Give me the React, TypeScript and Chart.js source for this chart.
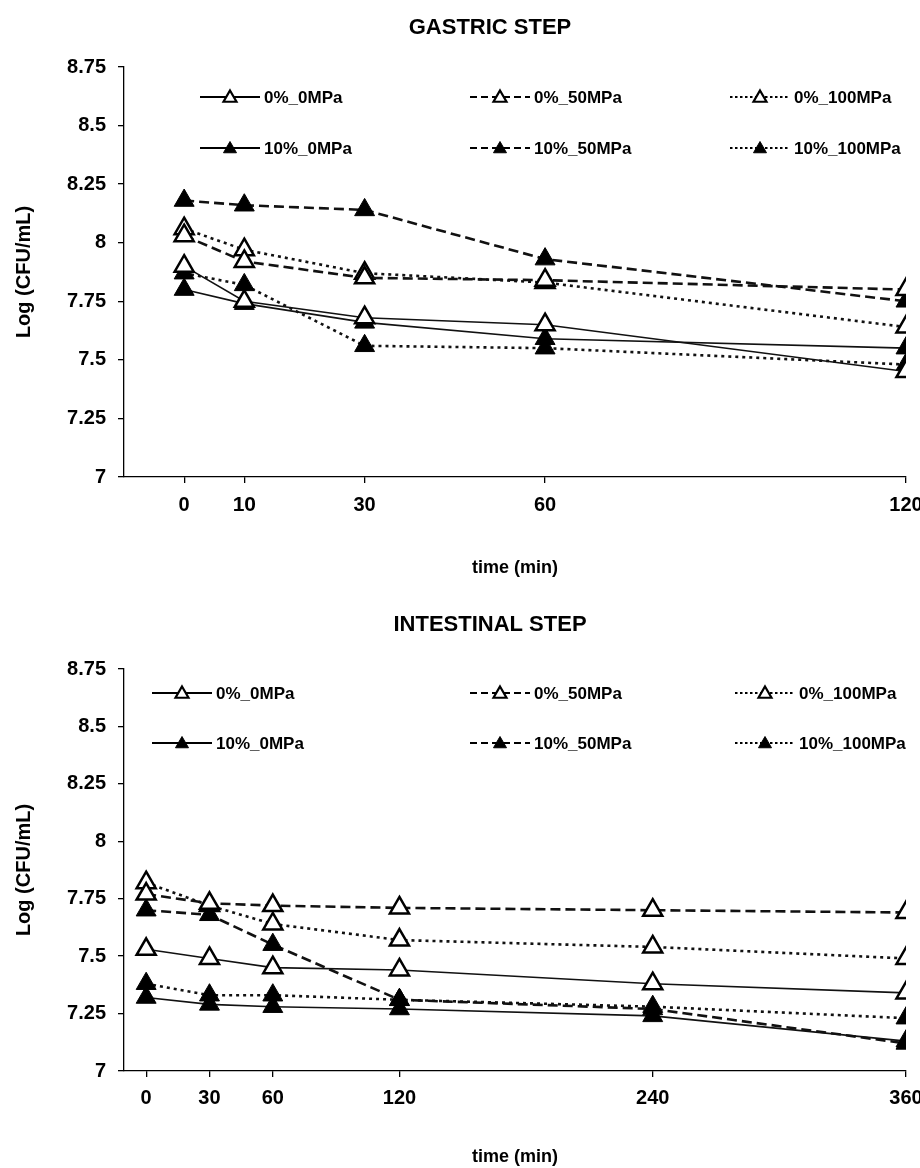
import React, { useEffect, useRef } from 'react';
import { Chart, registerables } from 'chart.js';

Chart.register(...registerables);

const FONT = "'Liberation Sans', Arial, Helvetica, sans-serif";

// ---------- data ----------
const seriesLabels = ['0%_0MPa', '0%_50MPa', '0%_100MPa', '10%_0MPa', '10%_50MPa', '10%_100MPa'];

const gastricTitle = 'GASTRIC STEP';
const gastricTime = [0, 10, 30, 60, 120];
const gastricTicks = [0, 10, 30, 60, 120];
const gastric_0_0 = [7.9, 7.75, 7.68, 7.65, 7.45];
const gastric_0_50 = [8.03, 7.92, 7.85, 7.84, 7.8];
const gastric_0_100 = [8.06, 7.97, 7.87, 7.83, 7.64];
const gastric_10_0 = [7.8, 7.74, 7.66, 7.59, 7.55];
const gastric_10_50 = [8.18, 8.16, 8.14, 7.93, 7.75];
const gastric_10_100 = [7.87, 7.82, 7.56, 7.55, 7.48];

const intestinalTitle = 'INTESTINAL STEP';
const intestinalTime = [0, 30, 60, 120, 240, 360];
const intestinalTicks = [0, 30, 60, 120, 240, 360];
const intestinal_0_0 = [7.53, 7.49, 7.45, 7.44, 7.38, 7.34];
const intestinal_0_50 = [7.77, 7.73, 7.72, 7.71, 7.7, 7.69];
const intestinal_0_100 = [7.82, 7.72, 7.64, 7.57, 7.54, 7.49];
const intestinal_10_0 = [7.32, 7.29, 7.28, 7.27, 7.24, 7.13];
const intestinal_10_50 = [7.7, 7.68, 7.55, 7.31, 7.27, 7.12];
const intestinal_10_100 = [7.38, 7.33, 7.33, 7.31, 7.28, 7.23];

const yTicks = [7, 7.25, 7.5, 7.75, 8, 8.25, 8.5, 8.75];
const yTitle = 'Log (CFU/mL)';
const xTitle = 'time (min)';

// ---------- styles ----------
type Sty = { dash: number[]; width: number; filled: boolean; legendDash: number[] };
const STYLES: Sty[] = [
  { dash: [], width: 1.6, filled: false, legendDash: [] },
  { dash: [10, 5], width: 2.6, filled: false, legendDash: [7, 4] },
  { dash: [3, 4], width: 2.6, filled: false, legendDash: [2.5, 2.5] },
  { dash: [], width: 1.6, filled: true, legendDash: [] },
  { dash: [10, 5], width: 2.6, filled: true, legendDash: [7, 4] },
  { dash: [3, 4], width: 2.6, filled: true, legendDash: [2.5, 2.5] },
];

function drawTri(ctx: CanvasRenderingContext2D, x: number, y: number, r: number, filled: boolean) {
  ctx.save();
  ctx.setLineDash([]);
  ctx.beginPath();
  for (let k = 0; k < 3; k++) {
    const a = (k * 2 * Math.PI) / 3;
    const px = x + Math.sin(a) * r;
    const py = y - Math.cos(a) * r;
    if (k === 0) ctx.moveTo(px, py);
    else ctx.lineTo(px, py);
  }
  ctx.closePath();
  ctx.fillStyle = filled ? '#000' : '#fff';
  ctx.fill();
  ctx.lineWidth = filled ? 1 : 2.2;
  ctx.strokeStyle = '#000';
  ctx.stroke();
  ctx.restore();
}

const decorPlugin = {
  id: 'decor',
  afterDraw(chart: any, _args: any, opts: any) {
    const ctx: CanvasRenderingContext2D = chart.ctx;
    ctx.save();
    ctx.fillStyle = '#000';
    ctx.font = `bold ${opts.titleSize}px ${FONT}`;
    ctx.textAlign = 'center';
    ctx.textBaseline = 'middle';
    ctx.fillText(opts.title, opts.titleX, opts.titleY);

    ctx.font = `bold 17px ${FONT}`;
    ctx.textAlign = 'left';
    seriesLabels.forEach((lab, i) => {
      const col = i % 3;
      const row = Math.floor(i / 3);
      const sx = opts.legendCols[col];
      const y = opts.legendRows[row];
      const st = STYLES[i];
      const w = 60;
      ctx.save();
      ctx.strokeStyle = '#000';
      ctx.lineWidth = st.dash.length ? 2.2 : 1.8;
      ctx.setLineDash(st.legendDash);
      ctx.beginPath();
      ctx.moveTo(sx, y);
      ctx.lineTo(sx + w, y);
      ctx.stroke();
      ctx.restore();
      drawTri(ctx, sx + w / 2, y + 1, 7.5, st.filled);
      ctx.fillStyle = '#000';
      ctx.fillText(lab, sx + w + 4, y + 1);
    });
    ctx.restore();
  },
};

type Spec = {
  title: string;
  time: number[];
  ticks: number[];
  series: number[][];
  xMin: number;
  xMax: number;
  top: number;
  xAxisHeight: number;
  tickPad: number;
  xTitlePad: number;
  titleY: number;
  legendCols: number[];
  legendRows: number[];
};

function ChartBox({ spec, height }: { spec: Spec; height: number }) {
  const ref = useRef<HTMLCanvasElement | null>(null);
  useEffect(() => {
    if (!ref.current) return;
    const datasets = spec.series.map((vals, i) => {
      const st = STYLES[i];
      return {
        label: seriesLabels[i],
        data: spec.time.map((t, j) => ({ x: t, y: vals[j] })),
        borderColor: '#111',
        borderWidth: st.width,
        borderDash: st.dash,
        borderCapStyle: 'butt' as const,
        pointStyle: 'triangle' as const,
        pointRadius: st.filled ? 11.5 : 11,
        pointBorderWidth: st.filled ? 1 : 2.5,
        pointBackgroundColor: st.filled ? '#000' : '#fff',
        pointBorderColor: '#000',
        tension: 0,
        fill: false,
      };
    });
    const chart = new Chart(ref.current, {
      type: 'line',
      data: { datasets },
      plugins: [decorPlugin],
      options: {
        responsive: false,
        animation: false,
        events: [],
        layout: { padding: { top: spec.top, right: 14, bottom: 0, left: 0 } },
        plugins: {
          legend: { display: false },
          tooltip: { enabled: false },
          title: { display: false },
          decor: {
            title: spec.title,
            titleSize: 22,
            titleX: 490,
            titleY: spec.titleY,
            legendCols: spec.legendCols,
            legendRows: spec.legendRows,
          },
        } as any,
        scales: {
          x: {
            type: 'linear',
            min: spec.xMin,
            max: spec.xMax,
            afterBuildTicks: (s: any) => {
              s.ticks = spec.ticks.map((v) => ({ value: v }));
            },
            afterFit: (s: any) => {
              s.height = spec.xAxisHeight;
              s.paddingLeft = 0;
              s.paddingRight = 0;
            },
            border: { display: true, color: '#000', width: 1.3 },
            grid: { display: true, drawOnChartArea: false, drawTicks: true, tickLength: 6, color: '#000', lineWidth: 1.3 },
            ticks: {
              color: '#000',
              padding: spec.tickPad,
              maxRotation: 0,
              autoSkip: false,
              font: (c: any) => ({
                family: FONT,
                weight: 'bold',
                size: c.tick && c.tick.value === 10 ? 21 : 20,
              }),
              callback: (v: any) => String(v),
            },
            title: {
              display: true,
              text: xTitle,
              color: '#000',
              font: { family: FONT, weight: 'bold', size: 18 },
              padding: { top: 0, bottom: spec.xTitlePad },
            },
          },
          y: {
            type: 'linear',
            min: 7,
            max: 8.75,
            afterBuildTicks: (s: any) => {
              s.ticks = yTicks.map((v) => ({ value: v }));
            },
            afterFit: (s: any) => {
              s.width = 124;
              s.paddingTop = 0;
              s.paddingBottom = 0;
            },
            border: { display: true, color: '#000', width: 1.3 },
            grid: { display: true, drawOnChartArea: false, drawTicks: true, tickLength: 6, color: '#000', lineWidth: 1.3 },
            ticks: {
              color: '#000',
              padding: 12,
              autoSkip: false,
              font: { family: FONT, weight: 'bold', size: 20 },
              callback: (v: any) => String(v),
            },
            title: {
              display: true,
              text: yTitle,
              color: '#000',
              font: { family: FONT, weight: 'bold', size: 20 },
              padding: { top: 12, bottom: 0 },
            },
          },
        },
      },
    });
    return () => chart.destroy();
  }, [spec]);
  return <canvas ref={ref} width={920} height={height} style={{ display: 'block' }} />;
}

const gastricSpec: Spec = {
  title: gastricTitle,
  time: gastricTime,
  ticks: gastricTicks,
  series: [gastric_0_0, gastric_0_50, gastric_0_100, gastric_10_0, gastric_10_50, gastric_10_100],
  xMin: -10,
  xMax: 120,
  top: 67,
  xAxisHeight: 107,
  tickPad: 10,
  xTitlePad: 5,
  titleY: 28,
  legendCols: [200, 470, 730],
  legendRows: [97, 148],
};

const intestinalSpec: Spec = {
  title: intestinalTitle,
  time: intestinalTime,
  ticks: intestinalTicks,
  series: [intestinal_0_0, intestinal_0_50, intestinal_0_100, intestinal_10_0, intestinal_10_50, intestinal_10_100],
  xMin: -10.5,
  xMax: 360,
  top: 85,
  xAxisHeight: 97,
  tickPad: 9,
  xTitlePad: 0,
  titleY: 41,
  legendCols: [152, 470, 735],
  legendRows: [109, 159],
};

export default function App() {
  return (
    <div style={{ position: 'absolute', left: 0, top: 0, width: 920, height: 1168, background: '#fff' }}>
      <div style={{ position: 'absolute', left: 0, top: 0 }}>
        <ChartBox spec={gastricSpec} height={584} />
      </div>
      <div style={{ position: 'absolute', left: 0, top: 584 }}>
        <ChartBox spec={intestinalSpec} height={584} />
      </div>
    </div>
  );
}
